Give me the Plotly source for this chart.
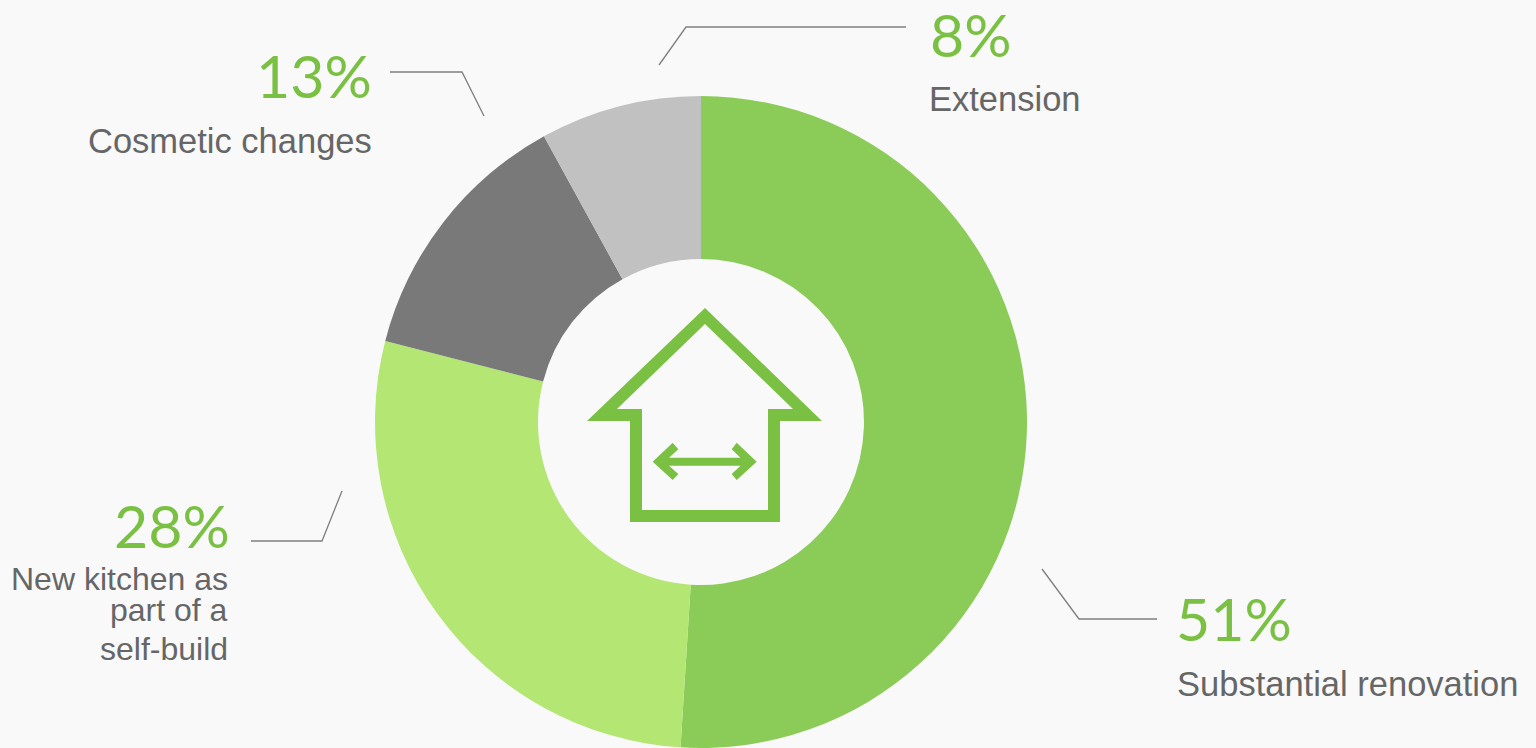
import plotly.graph_objects as go

W, H = 1536, 748
categories = ["Substantial renovation", "New kitchen as part of a self-build", "Cosmetic changes", "Extension"]
values = [51, 28, 13, 8]
colors = ["#8BCB57", "#B3E672", "#797979", "#C1C1C1"]
GREEN = "#7AC143"
GREY = "#666666"
BG = "#F9F9F9"

def px(x): return x / W
def py(y): return 1 - y / H

fig = go.Figure(go.Pie(
    labels=categories, values=values, sort=False, direction="clockwise", rotation=0,
    hole=0.5, textinfo="none", hoverinfo="label+percent", showlegend=False,
    marker=dict(colors=colors, line=dict(width=0)),
    domain=dict(x=[px(375), px(1027)], y=[py(748), py(96)]),
))

percent_labels = [
    (f"{values[0]}%", 1174, 618, "left", 59),
    (f"{values[1]}%", 232, 525, "right", 59),
    (f"{values[2]}%", 374, 76, "right", 59),
    (f"{values[3]}%", 928, 35, "left", 59),
]
text_labels = [
    ("Substantial renovation", 1175, 684, "left", 34.5),
    ("New kitchen as", 230, 579, "right", 32),
    ("part of a", 230, 610, "right", 32),
    ("self-build", 230, 649, "right", 32),
    ("Cosmetic changes", 374, 141, "right", 34.5),
    ("Extension", 927, 99, "left", 34.5),
]
ann = []
for t, x, y, a, s in percent_labels:
    ann.append(dict(text=t, x=px(x), y=py(y), xref="paper", yref="paper", xanchor=a, yanchor="middle",
                    showarrow=False, font=dict(family="Lato", size=s, color=GREEN)))
for t, x, y, a, s in text_labels:
    ann.append(dict(text=t, x=px(x), y=py(y), xref="paper", yref="paper", xanchor=a, yanchor="middle",
                    showarrow=False, font=dict(family="Liberation Sans", size=s, color=GREY)))

def path(pts, close=True):
    return "M" + " L".join(f"{px(x):.5f},{py(y):.5f}" for x, y in pts) + (" Z" if close else "")

leaders = [
    [(1157, 619), (1079, 619), (1042, 569)],
    [(251, 541), (322, 541), (342, 491)],
    [(390, 72), (462, 72), (484, 116)],
    [(906, 27), (686, 27), (659, 65)],
]
house_outer = [(705, 308), (822, 421), (780, 421), (780, 522), (630, 522), (630, 421), (587, 421)]
house_inner = [(705, 324), (793, 409), (768, 409), (768, 510), (642, 510), (642, 409), (617, 409)]
arrow = [(652.7, 461.7), (672.7, 442.7), (678.3, 449.3), (669, 457.7), (740.5, 457.7), (731.7, 449.3),
         (736.7, 442.7), (756.7, 461.7), (736.7, 480), (731.7, 474), (740.5, 465.7), (669, 465.7),
         (678.3, 474), (672.7, 480)]

shapes = [dict(type="path", path=path(l, False), xref="paper", yref="paper",
               line=dict(color="#7F7F7F", width=1.3), fillcolor="rgba(0,0,0,0)") for l in leaders]
shapes.append(dict(type="path", path=path(house_outer) + " " + path(house_inner), xref="paper", yref="paper",
                   fillcolor=GREEN, fillrule="evenodd", line=dict(width=0)))
shapes.append(dict(type="path", path=path(arrow), xref="paper", yref="paper",
                   fillcolor=GREEN, line=dict(width=0)))

fig.update_layout(width=W, height=H, autosize=False, margin=dict(l=0, r=0, t=0, b=0),
                  paper_bgcolor=BG, plot_bgcolor=BG, annotations=ann, shapes=shapes)
fig.write_html("out.html", config=dict(displayModeBar=False),
               post_script="document.body.style.margin='0';document.body.style.overflow='hidden';document.body.style.background='#F9F9F9';")
